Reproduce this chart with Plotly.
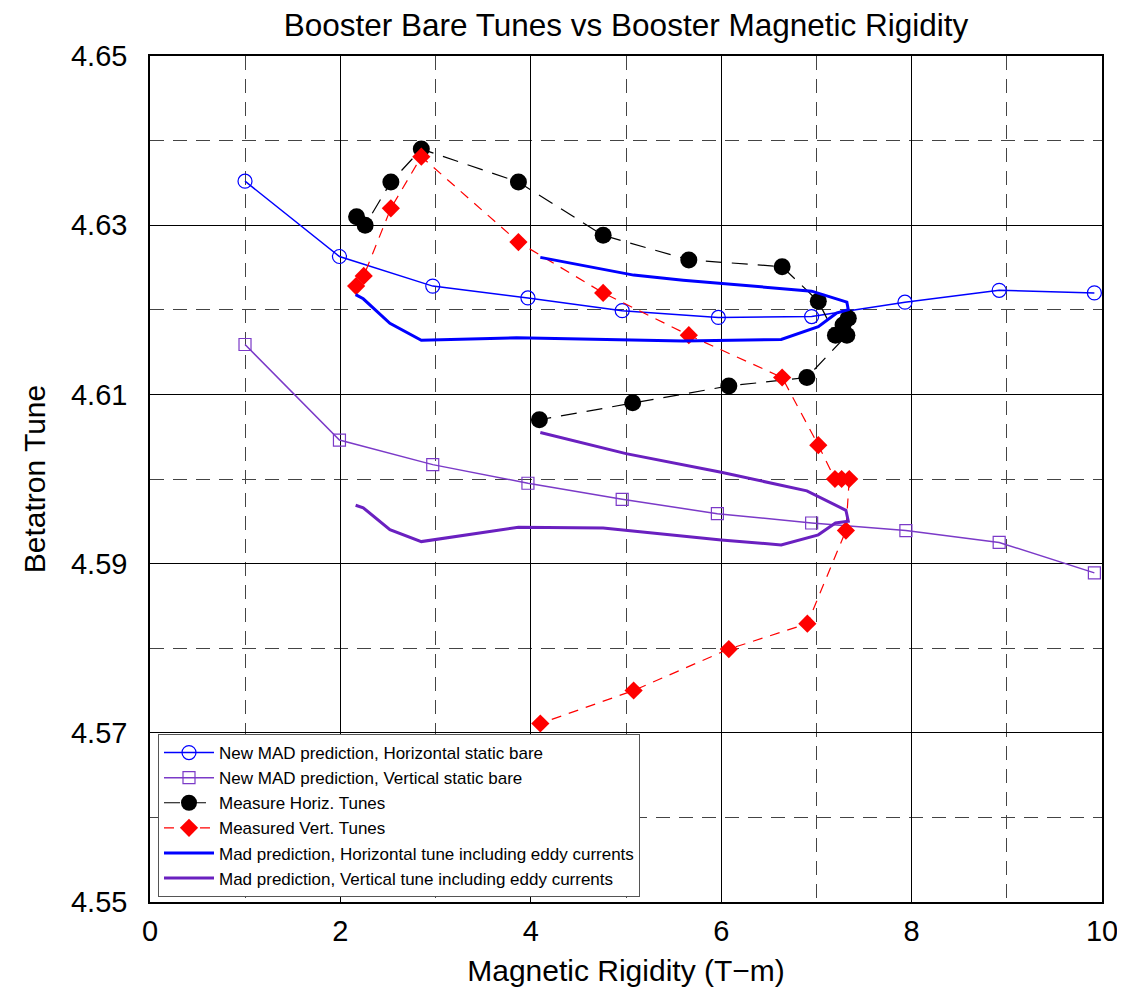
import plotly.graph_objects as go

# ---- data ----
h_static_x = [0.998, 1.99, 2.97, 3.97, 4.96, 5.97, 6.95, 7.93, 8.92, 9.92]
h_static_y = [4.6352, 4.6263, 4.6228, 4.6214, 4.6199, 4.6191, 4.6192, 4.6209, 4.6223, 4.6220]

v_static_x = [0.998, 1.99, 2.97, 3.97, 4.96, 5.96, 6.95, 7.94, 8.92, 9.92]
v_static_y = [4.6159, 4.6046, 4.6017, 4.5995, 4.5976, 4.5959, 4.5948, 4.5939, 4.5925, 4.5889]

h_meas_x = [2.17, 2.26, 2.53, 2.85, 3.87, 4.76, 5.66, 6.64, 7.02, 7.20, 7.28, 7.335, 7.32, 6.90, 6.08, 5.07, 4.09]
h_meas_y = [4.6310, 4.6300, 4.6351, 4.6390, 4.6351, 4.6288, 4.6259, 4.6251, 4.6210, 4.6170, 4.6182, 4.6190, 4.6170, 4.6120, 4.6110, 4.6090, 4.6070]

v_meas_x = [2.165, 2.245, 2.53, 2.85, 3.87, 4.76, 5.66, 6.64, 7.02, 7.195, 7.265, 7.345, 7.31, 6.905, 6.08, 5.08, 4.10]
v_meas_y = [4.6228, 4.6240, 4.6320, 4.6381, 4.6280, 4.6220, 4.6170, 4.6120, 4.6040, 4.6000, 4.6000, 4.6000, 4.5939, 4.5829, 4.5799, 4.5750, 4.5711]

h_eddy_x = [2.16, 2.24, 2.52, 2.85, 3.85, 5.60, 6.63, 7.02, 7.21, 7.335, 7.32, 6.95, 5.60, 5.08, 4.10]
h_eddy_y = [4.6218, 4.6213, 4.6184, 4.6164, 4.6167, 4.6163, 4.6165, 4.6180, 4.6196, 4.6200, 4.6209, 4.6222, 4.6235, 4.6241, 4.6262]

v_eddy_x = [2.16, 2.24, 2.52, 2.85, 3.87, 4.76, 6.00, 6.63, 7.02, 7.20, 7.335, 7.31, 6.90, 6.00, 5.00, 4.10]
v_eddy_y = [4.5969, 4.5966, 4.5940, 4.5926, 4.5943, 4.5942, 4.5928, 4.5922, 4.5934, 4.5948, 4.5950, 4.5963, 4.5986, 4.6008, 4.6030, 4.6055]

names = [
    "New MAD prediction, Horizontal static bare",
    "New MAD prediction, Vertical static bare",
    "Measure Horiz. Tunes",
    "Measured Vert. Tunes",
    "Mad prediction, Horizontal tune including eddy currents",
    "Mad prediction, Vertical tune including eddy currents",
]

BLUE = "#0000FF"
PURPLE_THIN = "#7B3AC8"
PURPLE_THICK = "#6A20C0"
RED = "#FF0000"

fig = go.Figure()
fig.add_trace(go.Scatter(
    x=h_static_x, y=h_static_y, name=names[0], mode="lines+markers",
    line=dict(color=BLUE, width=1.5),
    marker=dict(symbol="circle-open", size=14, color=BLUE, line=dict(width=1.2))))
fig.add_trace(go.Scatter(
    x=v_static_x, y=v_static_y, name=names[1], mode="lines+markers",
    line=dict(color=PURPLE_THIN, width=1.5),
    marker=dict(symbol="square-open", size=12, color=PURPLE_THIN, line=dict(width=1.2))))
fig.add_trace(go.Scatter(
    x=h_meas_x, y=h_meas_y, name=names[2], mode="lines+markers",
    line=dict(color="black", width=1.2, dash="16px,10px"),
    marker=dict(symbol="circle", size=17, color="black")))
fig.add_trace(go.Scatter(
    x=v_meas_x, y=v_meas_y, name=names[3], mode="lines+markers",
    line=dict(color=RED, width=1.2, dash="10px,8px"),
    marker=dict(symbol="diamond", size=14, color=RED)))
fig.add_trace(go.Scatter(
    x=h_eddy_x, y=h_eddy_y, name=names[4], mode="lines",
    line=dict(color=BLUE, width=3)))
fig.add_trace(go.Scatter(
    x=v_eddy_x, y=v_eddy_y, name=names[5], mode="lines",
    line=dict(color=PURPLE_THICK, width=3)))

FONT = "Liberation Sans, Arial, sans-serif"

fig.update_layout(
    width=1125, height=995,
    margin=dict(l=142, r=31, t=48, b=101, autoexpand=False),
    paper_bgcolor="white", plot_bgcolor="white",
    font=dict(family=FONT, color="black"),
    title=dict(text="Booster Bare Tunes vs Booster Magnetic Rigidity",
               x=0.5493, xanchor="center", y=0.994, yanchor="top",
               font=dict(size=31.5, family=FONT)),
    showlegend=True,
    legend=dict(x=0.0084, y=0.1986, xanchor="left", yanchor="top",
                bgcolor="white", bordercolor="#555555", borderwidth=1,
                font=dict(size=17, family=FONT), itemwidth=50,
                tracegroupgap=0),
)

fig.update_xaxes(
    range=[0, 10], tick0=0, dtick=2, ticks="", ticklabelstandoff=2, automargin=False,
    tickfont=dict(size=29), showline=True, mirror=True, linecolor="black", linewidth=1.5,
    showgrid=True, gridcolor="black", gridwidth=1, zeroline=False,
    minor=dict(dtick=1, tick0=0, showgrid=True, gridcolor="#444444", gridwidth=1, griddash="14px,9px"),
    title=dict(text="Magnetic Rigidity (T\u2212m)", font=dict(size=30), standoff=14),
)
fig.update_yaxes(
    range=[4.55, 4.65], tick0=4.55, dtick=0.02, tickformat=".2f", ticks="", ticklabelstandoff=15,
    automargin=False,
    tickfont=dict(size=29), showline=True, mirror=True, linecolor="black", linewidth=1.5,
    showgrid=True, gridcolor="black", gridwidth=1, zeroline=False,
    minor=dict(dtick=0.01, tick0=4.55, showgrid=True, gridcolor="#444444", gridwidth=1, griddash="14px,9px"),
    title=dict(text="Betatron Tune", font=dict(size=30), standoff=16),
)

fig.write_html("out.html")
